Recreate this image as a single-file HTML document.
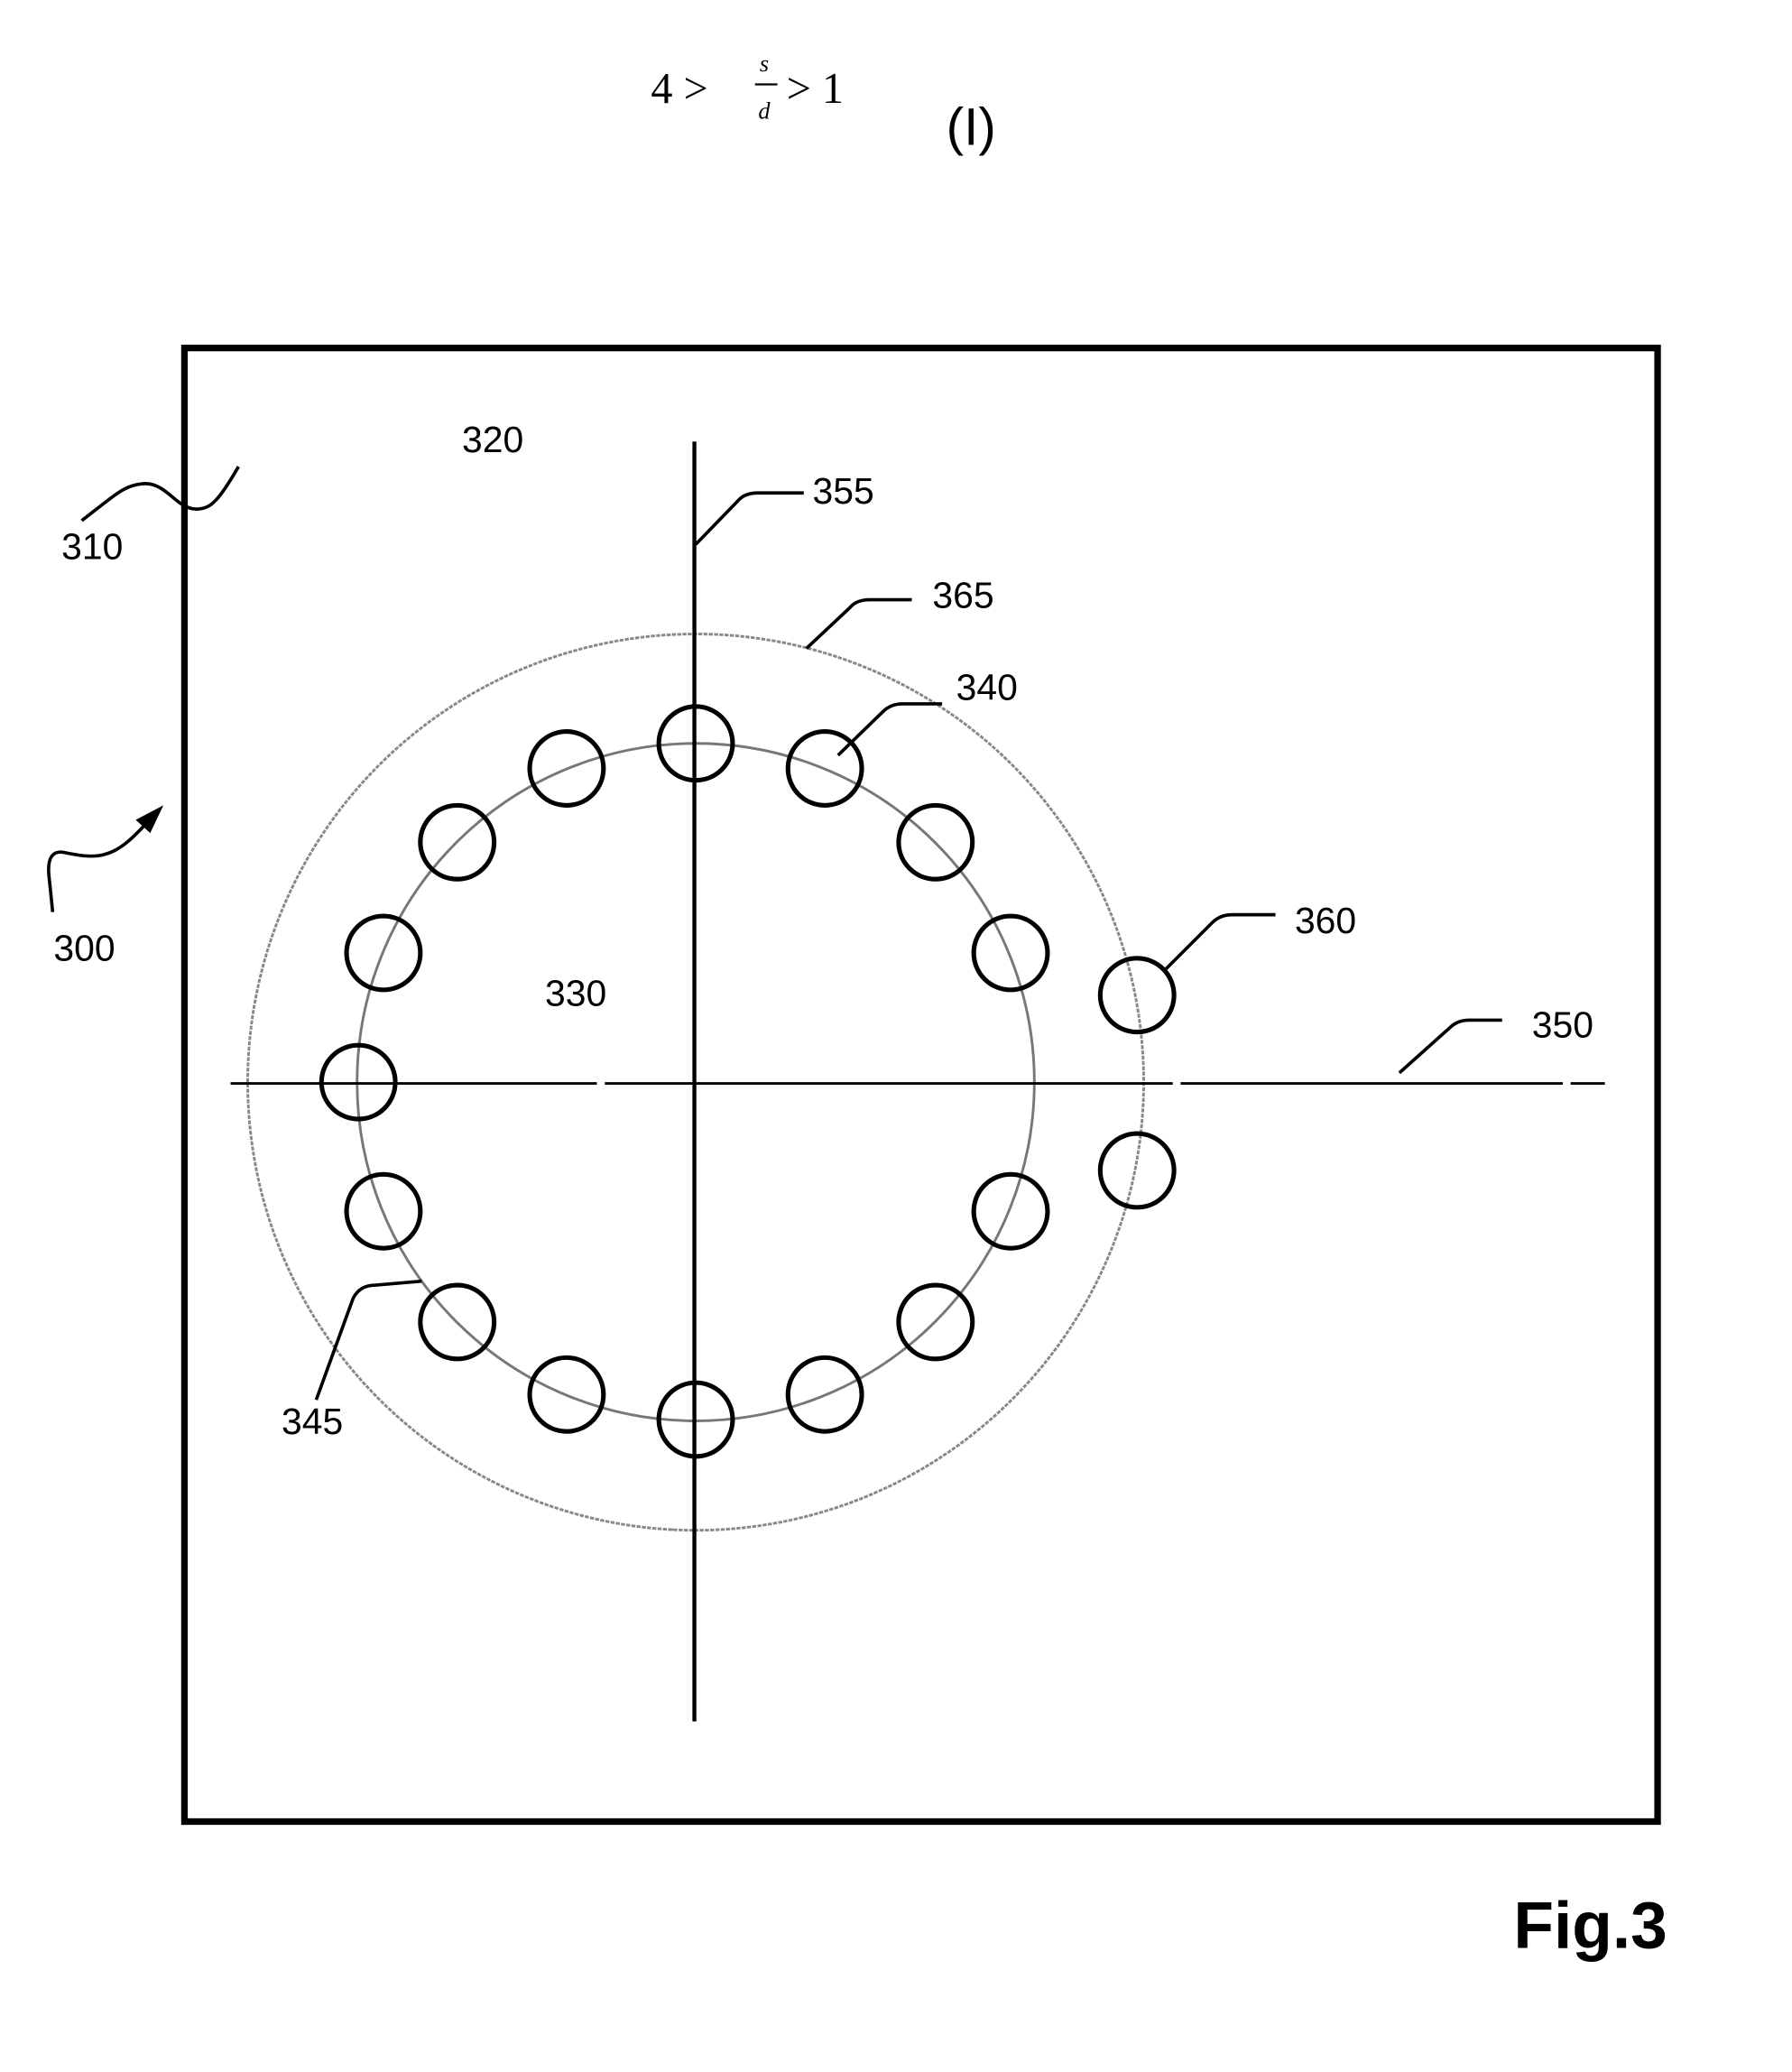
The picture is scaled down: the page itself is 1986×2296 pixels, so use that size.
<!DOCTYPE html>
<html><head><meta charset="utf-8"><style>
html,body{margin:0;padding:0;background:#fff;}
svg{display:block;}
.t{font-family:"Liberation Sans",sans-serif;font-size:28px;fill:#000;text-anchor:middle;}
.s{font-family:"Liberation Serif",serif;fill:#000;}
</style></head><body>
<svg width="1986" height="2296" viewBox="0 0 1360 1572" preserveAspectRatio="none" xmlns="http://www.w3.org/2000/svg">
<rect width="1360" height="1572" fill="#fff"/>
<!-- formula -->
<text class="s" x="494" y="78" font-size="33">4 &gt;</text>
<text class="s" x="580" y="54" font-size="18" font-style="italic" text-anchor="middle">s</text>
<line x1="573" y1="64" x2="590" y2="64" stroke="#000" stroke-width="1.5"/>
<text class="s" x="580" y="90" font-size="18" font-style="italic" text-anchor="middle">d</text>
<text class="s" x="597" y="78" font-size="33">&gt; 1</text>
<text x="737" y="110" font-family="Liberation Sans,sans-serif" font-size="40" text-anchor="middle">(I)</text>
<!-- frame -->
<rect x="140" y="264" width="1118" height="1118" fill="none" stroke="#000" stroke-width="5"/>
<!-- circles -->
<circle cx="528" cy="821" r="340" fill="none" stroke="#888" stroke-width="2" stroke-dasharray="3,1"/>
<circle cx="528" cy="821" r="257" fill="none" stroke="#777" stroke-width="2"/>
<!-- axes -->
<line x1="527" y1="335" x2="527" y2="1306" stroke="#000" stroke-width="3"/>
<path d="M175 822H453M459 822H890M896 822H1186M1192 822H1218" stroke="#000" stroke-width="2"/>
<g fill="none" stroke="#000" stroke-width="3.5">
<circle cx="528" cy="564" r="28"/>
<circle cx="626" cy="583" r="28"/>
<circle cx="710" cy="639" r="28"/>
<circle cx="767" cy="723" r="28"/>
<circle cx="767" cy="919" r="28"/>
<circle cx="710" cy="1003" r="28"/>
<circle cx="626" cy="1058" r="28"/>
<circle cx="528" cy="1077" r="28"/>
<circle cx="430" cy="1058" r="28"/>
<circle cx="347" cy="1003" r="28"/>
<circle cx="291" cy="919" r="28"/>
<circle cx="272" cy="821" r="28"/>
<circle cx="291" cy="723" r="28"/>
<circle cx="347" cy="639" r="28"/>
<circle cx="430" cy="583" r="28"/>
<circle cx="863" cy="755" r="28"/>
<circle cx="863" cy="888" r="28"/>
</g>
<!-- leaders -->
<g fill="none" stroke="#000" stroke-width="2.5">
<path d="M89 554 C96 548 110 536 125 525 C140 514 155 514 170 522 C180 528 190 538 205 541 C218 543 225 540 230 538 L265 505" transform="translate(-1986,0)"/>
<path d="M62 395 L80 381 C88 375 96 368 108 367 C118 366 125 372 132 378 C140 385 146 387 152 386 C160 385 166 380 181 354"/>
<path d="M40 692 L37 663 C36 648 42 645 50 647 C60 649 70 651 80 648 C92 645 102 635 120 615"/>
<path d="M528 413 L560 380 Q565 374 575 374 L610 374"/>
<path d="M612 492 L645 461 Q650 455 660 455 L692 455"/>
<path d="M636 573 L670 540 Q676 534 685 534 L715 534"/>
<path d="M885 735 L920 700 Q926 694 935 694 L968 694"/>
<path d="M1062 814 L1100 780 Q1106 774 1115 774 L1140 774"/>
<path d="M240 1062 L268 985 Q273 975 285 975 L320 972"/>
</g>
<polygon points="124,611 103,622 114,632" fill="#000"/>
<!-- labels -->
<text class="t" x="374" y="343">320</text>
<text class="t" x="70" y="424">310</text>
<text class="t" x="64" y="729">300</text>
<text class="t" x="437" y="763">330</text>
<text class="t" x="640" y="382">355</text>
<text class="t" x="731" y="461">365</text>
<text class="t" x="749" y="531">340</text>
<text class="t" x="1006" y="708">360</text>
<text class="t" x="1186" y="787">350</text>
<text class="t" x="237" y="1088">345</text>
<text x="1207" y="1478" font-family="Liberation Sans,sans-serif" font-weight="bold" font-size="50" text-anchor="middle">Fig.3</text>
</svg>
</body></html>
